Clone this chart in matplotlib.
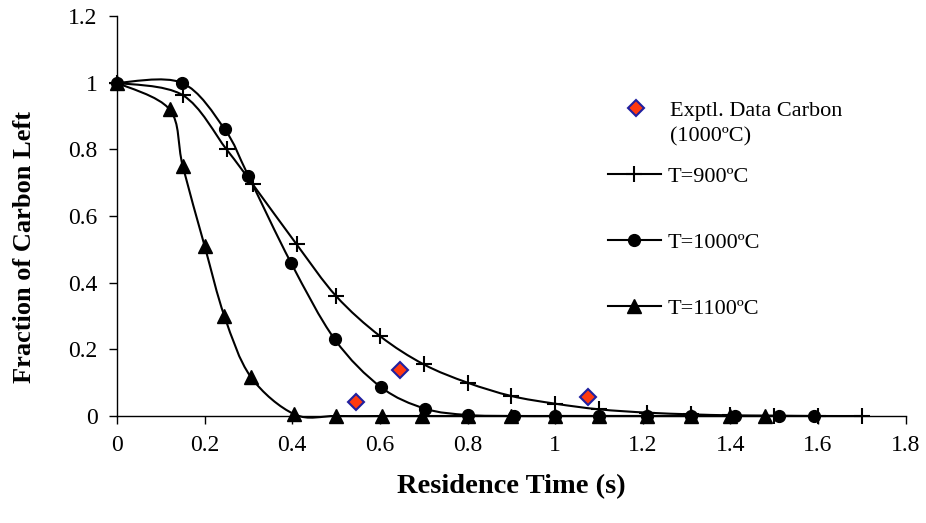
import numpy as np
import matplotlib
matplotlib.use("Agg")
import matplotlib.pyplot as plt
from matplotlib.path import Path
from matplotlib.patches import PathPatch
from matplotlib.lines import Line2D

plt.rcParams['font.family'] = ['Liberation Serif', 'DejaVu Serif']

# residence time (s) and fraction of carbon left
t_900 = [0, 0.15, 0.25, 0.31, 0.41, 0.50, 0.60, 0.70, 0.80, 0.90, 1.00,
         1.10, 1.21, 1.31, 1.40, 1.50, 1.60, 1.70]
c_900 = [1.0, 0.963, 0.80, 0.695, 0.515, 0.36, 0.24, 0.155, 0.10, 0.06,
         0.037, 0.02, 0.01, 0.005, 0.002, 0.001, 0.0, 0.0]
t_1000 = [0, 0.148, 0.246, 0.30, 0.397, 0.497, 0.602, 0.703, 0.80, 0.905,
          1.00, 1.10, 1.21, 1.31, 1.41, 1.51, 1.59]
c_1000 = [1.0, 1.0, 0.86, 0.72, 0.46, 0.23, 0.087, 0.022, 0.003, 0.0,
          0.0, 0.0, 0.0, 0.0, 0.0, 0.0, 0.0]
t_1100 = [0, 0.12, 0.15, 0.20, 0.245, 0.305, 0.405, 0.50, 0.605, 0.695,
          0.80, 0.90, 1.00, 1.10, 1.21, 1.31, 1.40, 1.48]
c_1100 = [1.0, 0.92, 0.75, 0.51, 0.30, 0.118, 0.005, 0.0, 0.0, 0.0,
          0.0, 0.0, 0.0, 0.0, 0.0, 0.0, 0.0, 0.0]
t_exp = [0.545, 0.646, 1.075]
c_exp = [0.042, 0.138, 0.058]

labels = ["Exptl. Data Carbon", "(1000\u00baC)", "T=900\u00baC", "T=1000\u00baC",
          "T=1100\u00baC"]


def smooth_path(x, y):
    """bezier path through the points, like a spreadsheet 'smoothed line'"""
    p = np.column_stack([x, y]).astype(float)
    n = len(p)
    verts = [p[0]]
    codes = [Path.MOVETO]
    for i in range(n - 1):
        p0 = p[i - 1] if i > 0 else p[i]
        p3 = p[i + 2] if i + 2 < n else p[i + 1]
        c1 = p[i] + (p[i + 1] - p0) / 6.0
        c2 = p[i + 1] - (p3 - p[i]) / 6.0
        verts += [c1, c2, p[i + 1]]
        codes += [Path.CURVE4] * 3
    return Path(verts, codes)


fig = plt.figure(figsize=(9.26, 5.23), dpi=100)
ax = fig.add_axes([0.1264, 0.2046, 0.978 - 0.1264, 0.969 - 0.2046])

line_kw = dict(color='k', lw=1.5)
plus_kw = dict(marker='+', ms=12, mew=1.5)
circ_kw = dict(marker='o', ms=8.5)
tri_kw = dict(marker='^', ms=9.5)
dia_kw = dict(marker='D', ms=8.5, mfc='#ff3a10', mec='#2020a0', mew=1.5)

for x, y in [(t_900, c_900), (t_1000, c_1000), (t_1100, c_1100)]:
    ax.add_patch(PathPatch(smooth_path(x, y), fill=False, zorder=2,
                           clip_on=False, **line_kw))

ax.plot(t_900, c_900, ls='none', color='k', zorder=3, clip_on=False,
        **plus_kw)
ax.plot(t_1000, c_1000, ls='none', color='k', zorder=3, clip_on=False,
        **circ_kw)
ax.plot(t_1100, c_1100, ls='none', color='k', zorder=3, clip_on=False,
        **tri_kw)
ax.plot(t_exp, c_exp, ls='none', zorder=4, clip_on=False, **dia_kw)

ax.set_xlim(0, 1.8)
ax.set_ylim(0, 1.2)
ax.set_xticks(np.arange(0, 1.81, 0.2))
ax.set_yticks(np.arange(0, 1.21, 0.2))
ax.set_xticklabels(["0", "0.2", "0.4", "0.6", "0.8", "1", "1.2", "1.4",
                    "1.6", "1.8"])
ax.set_yticklabels(["0", "0.2", "0.4", "0.6", "0.8", "1", "1.2"])
ax.tick_params(labelsize=17, length=6, width=1, direction='out')
ax.tick_params(axis='x', pad=8)
ax.tick_params(axis='y', pad=8)
for s in ['top', 'right']:
    ax.spines[s].set_visible(False)
for s in ['left', 'bottom']:
    ax.spines[s].set_linewidth(1)
ax.set_xlabel("Residence Time (s)", fontsize=20.5, fontweight='bold',
              labelpad=13)
ax.set_ylabel("Fraction of Carbon Left", fontsize=19, fontweight='bold')
ax.yaxis.set_label_coords(-0.103, 0.4225)

leg_kw = dict(frameon=False, fontsize=16, handlelength=2.4,
              handletextpad=0.3, borderpad=0, borderaxespad=0)
h_exp = Line2D([], [], ls='none', **dia_kw)
h_none = Line2D([], [], ls='none', marker='none')
leg1 = ax.legend([h_exp, h_none], labels[:2], loc='center left',
                 bbox_to_anchor=(0.6245, 0.7315), labelspacing=0.25,
                 **leg_kw)
ax.add_artist(leg1)
handles = [Line2D([], [], **plus_kw, **line_kw),
           Line2D([], [], **circ_kw, **line_kw),
           Line2D([], [], **tri_kw, **line_kw)]
ax.legend(handles, labels[2:], loc='center left',
          bbox_to_anchor=(0.6223, 0.434), labelspacing=2.05, **leg_kw)

fig.savefig("out.png", dpi=100)
